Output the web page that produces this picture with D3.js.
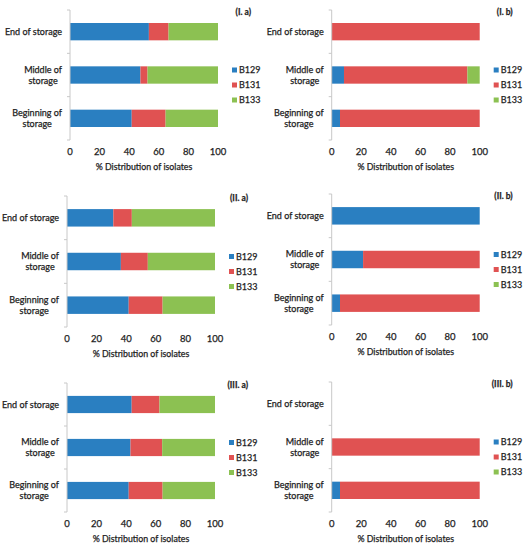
<!DOCTYPE html>
<html><head><meta charset="utf-8">
<script src="https://cdn.jsdelivr.net/npm/d3@7"></script>
<style>body{margin:0;background:#fff}svg{display:block}text{font-family:Lato,"Open Sans",sans-serif;fill:#1e1e1e;stroke:#1e1e1e;stroke-width:0.25px}</style>
</head><body>
<script>
// ---- data ----
const categories = ["Beginning of storage", "Middle of storage", "End of storage"];
const categoryLines = [["Beginning of", "storage"], ["Middle of", "storage"], ["End of storage"]];
const series = ["B129", "B131", "B133"];
const xTicks = [0, 20, 40, 60, 80, 100];
const xTitle = "% Distribution of isolates";
const panelTitles = ["(I. a)", "(I. b)", "(II. a)", "(II. b)", "(III. a)", "(III. b)"];
// values per category (Beginning, Middle, End) as [B129, B131, B133]
const valuesIa = [[41.7, 22.9, 35.4], [47.6, 4.8, 47.6], [53.3, 13.3, 33.4]];
const valuesIb = [[5.6, 94.4, 0], [8.3, 83.4, 8.3], [0, 100, 0]];
const valuesIIa = [[41.7, 22.9, 35.4], [36.4, 18.2, 45.4], [31.3, 12.5, 56.2]];
const valuesIIb = [[5.6, 94.4, 0], [21.2, 78.8, 0], [100, 0, 0]];
const valuesIIIa = [[41.7, 22.9, 35.4], [42.9, 21.4, 35.7], [43.7, 18.8, 37.5]];
const valuesIIIb = [[5.6, 94.4, 0], [0, 100, 0], [0, 0, 0]];
const panelValues = [valuesIa, valuesIb, valuesIIa, valuesIIb, valuesIIIa, valuesIIIb];

const colors = ["#2a7fc1", "#e05252", "#8cc152"];
// panel frames: x0 of value axis, top and bottom of category axis
const frames = [
  {x0: 70, top: 10, bottom: 140},
  {x0: 331.7, top: 10, bottom: 140},
  {x0: 67, top: 196, bottom: 327},
  {x0: 331.7, top: 194, bottom: 325},
  {x0: 67, top: 383, bottom: 512},
  {x0: 331.7, top: 382, bottom: 512}
];
const plotW = 148;

const svg = d3.select("body").append("svg").attr("width", 523).attr("height", 550);
const color = d3.scaleOrdinal().domain(series).range(colors);

panelValues.forEach((vals, pi) => {
  const f = frames[pi];
  const g = svg.append("g");
  const x = d3.scaleLinear().domain([0, 100]).range([f.x0, f.x0 + plotW]);
  const y = d3.scaleBand().domain(categories.slice().reverse()).range([f.top, f.bottom]).paddingInner(0.6).paddingOuter(0.3);
  const yb = d3.scaleBand().domain(categories.slice().reverse()).range([f.top, f.bottom]);

  // stacked bars
  const rows = categories.map((c, i) => { const o = {cat: c}; series.forEach((s, j) => o[s] = vals[i][j]); return o; });
  const stack = d3.stack().keys(series)(rows);
  stack.forEach(layer => {
    g.selectAll(null).data(layer.filter(d => d[1] - d[0] > 0)).enter().append("rect")
      .attr("x", d => x(d[0])).attr("width", d => x(d[1]) - x(d[0]))
      .attr("y", d => y(d.data.cat)).attr("height", y.bandwidth())
      .attr("fill", color(layer.key));
  });

  // category axis line + ticks at boundaries
  g.append("line").attr("x1", f.x0).attr("x2", f.x0).attr("y1", f.top).attr("y2", f.bottom)
    .attr("stroke", "#c8c8c8").attr("stroke-width", 1);
  const bounds = [f.top].concat(yb.domain().map(c => yb(c) + yb.bandwidth()));
  g.selectAll(null).data(bounds).enter().append("line")
    .attr("x1", f.x0 - 3).attr("x2", f.x0).attr("y1", d => d).attr("y2", d => d)
    .attr("stroke", "#c8c8c8");

  // category labels
  categories.forEach((c, i) => {
    const lines = categoryLines[i];
    const cy = yb(c) + yb.bandwidth() / 2;
    const t = g.append("g");
    const texts = lines.map((ln, k) => t.append("text").text(ln)
      .attr("font-size", 9).attr("text-anchor", "middle")
      .attr("y", cy + (k - (lines.length - 1) / 2) * 11).attr("dy", "0.35em"));
    const maxW = d3.max(texts, tx => tx.node().getComputedTextLength());
    texts.forEach(tx => tx.attr("x", f.x0 - 8 - maxW / 2));
  });

  // value tick labels
  g.selectAll(null).data(xTicks).enter().append("text")
    .attr("x", d => x(d)).attr("y", f.bottom + 12).attr("dy", "0.35em")
    .attr("text-anchor", "middle").attr("font-size", 9.5).text(d => d);
  g.append("text").attr("x", f.x0 + plotW / 2).attr("y", f.bottom + 27).attr("dy", "0.35em")
    .attr("text-anchor", "middle").attr("font-size", 8.8).text(xTitle);

  // legend
  const mid = (f.top + f.bottom) / 2;
  series.forEach((s, k) => {
    const ly = mid - 5 + k * 15;
    g.append("rect").attr("x", f.x0 + 162).attr("y", ly - 2.5).attr("width", 5).attr("height", 5).attr("fill", color(s));
    g.append("text").attr("x", f.x0 + 169).attr("y", ly).attr("dy", "0.35em").attr("font-size", 9).text(s);
  });

  // title
  g.append("text").attr("x", f.x0 + 181).attr("y", f.top + 2).attr("dy", "0.35em")
    .attr("text-anchor", "end").attr("font-size", 8.5).attr("font-weight", "bold").text(panelTitles[pi]);
});
</script>
</body></html>
